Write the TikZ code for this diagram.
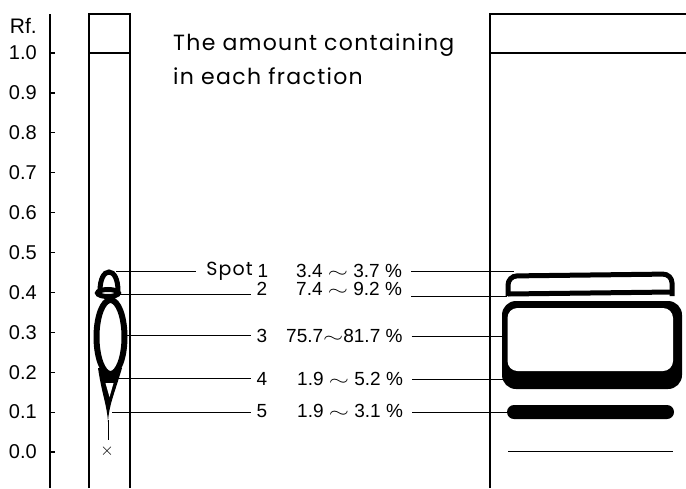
\documentclass[tikz,border=0pt]{standalone}
\usepackage{fontspec}
\usepackage{graphicx}
\setmainfont{Liberation Sans}
\newfontfamily\titlefont{Poppins}[LetterSpace=6]
\newcommand{\wavy}{\scalebox{1.5}[1]{$\sim$}}
\tikzset{
  rflabel/.style={anchor=east, inner sep=0pt, font=\fontsize{20}{20}\selectfont},
  spotlabel/.style={inner sep=0pt, font=\fontsize{19}{19}\selectfont},
  leader/.style={line width=1pt},
  plate/.style={line width=1.4pt},
  spotline/.style={line width=5pt},
}
\begin{document}
\begin{tikzpicture}[x=1pt,y=-1pt]
  \useasboundingbox (0,0) rectangle (686,488);
  % scala Rf
  \draw[line width=2.6pt] (50,14) -- (50,488);
  \foreach \i/\t in {0/0.0,1/0.1,2/0.2,3/0.3,4/0.4,5/0.5,6/0.6,7/0.7,8/0.8,9/0.9,10/1.0} {
    \draw[line width=1.2pt] (50,{452-39.9*\i}) -- ++(5,0);
    \node[rflabel] (rf\i) at (37,{452-39.9*\i}) {\t};
  }
  \node[rflabel, font=\fontsize{21}{21}\selectfont] (rfhead) at (37,26) {Rf.};
  % lastre
  \draw[plate] (89,488) -- (89,14) -- (130,14) -- (130,488);
  \draw[plate] (89,53) -- (130,53);
  \draw[plate] (490,488) -- (490,14) -- (686,14);
  \draw[plate] (490,53) -- (686,53);
  % titolo
  \node[anchor=base west, inner sep=0pt, font=\titlefont\fontsize{22}{22}\selectfont] (title1) at (173,50) {The amount containing};
  \node[anchor=base west, inner sep=0pt, font=\titlefont\fontsize{22}{22}\selectfont] (title2) at (173,84) {in each fraction};
  % macchia sinistra
  \fill (98,368) .. controls (102,395) and (107,405) .. (108,422) .. controls (109,405) and (114,395) .. (122,368) -- cycle;
  \fill[white] (105.5,383) -- (113.5,383) -- (109.5,397) -- cycle;
  \draw[line width=1pt] (108,420) -- (108,440);
  \node[inner sep=0pt, font=\fontsize{16}{16}\selectfont] (start) at (107,451) {$\times$};
  \draw[line width=6pt, fill=white] (110.5,337) ellipse [x radius=14, y radius=37];
  \draw[spotline, fill=white] (108,293) ellipse [x radius=10.5, y radius=3.5];
  \draw[spotline] (100,291) .. controls (100,279) and (104,272) .. (109,272) .. controls (114,272) and (118,279) .. (118,291);
  % macchia destra
  \draw[spotline, rounded corners=9] (508,296) -- (508,276) -- (672,274) -- (672,296);
  \draw[spotline] (508,294) -- (672,292);
  \fill[rounded corners=14] (502,301) rectangle (682,389);
  \fill[white, rounded corners=10] (507.5,308) rectangle (673,371);
  \fill[rounded corners=7] (507,405) rectangle (674,419);
  \draw[line width=1pt] (508,451) -- (673,451);
  % punti di attacco
  \coordinate (l1) at (116,271);
  \coordinate (l2) at (118,294);
  \coordinate (l3) at (124,335);
  \coordinate (l4) at (118,378);
  \coordinate (l5) at (112,412);
  \coordinate (r1) at (514,271);
  \coordinate (r2) at (507,296);
  \coordinate (r3) at (502,336);
  \coordinate (r4) at (503,379);
  \coordinate (r5) at (507,412);
  % etichette
  \node[spotlabel, anchor=east, font=\titlefont\fontsize{19}{19}\selectfont] (spotword) at (253,271) {Spot};
  \node[spotlabel] (n1) at (263,271) {1};
  \node[spotlabel] (n2) at (262,289) {2};
  \node[spotlabel] (n3) at (262,336) {3};
  \node[spotlabel] (n4) at (262,379) {4};
  \node[spotlabel] (n5) at (262,411) {5};
  \node[spotlabel, anchor=west] (p1) at (296,271) {3.4 \wavy{} 3.7 \%};
  \node[spotlabel, anchor=west] (p2) at (296,289) {7.4 \wavy{} 9.2 \%};
  \node[spotlabel, anchor=west] (p3) at (286,336) {75.7\wavy{}81.7 \%};
  \node[spotlabel, anchor=west] (p4) at (297,379) {1.9 \wavy{} 5.2 \%};
  \node[spotlabel, anchor=west] (p5) at (297,411) {1.9 \wavy{} 3.1 \%};
  % linee di richiamo
  \draw[leader] (l1) -- ([xshift=-10pt]spotword.west);
  \foreach \k in {2,...,5} {
    \draw[leader] (l\k) -- ([xshift=-6pt]n\k.west |- l\k);
  }
  \foreach \k in {1,...,5} {
    \draw[leader] ([xshift=9pt]p\k.east |- r\k) -- (r\k);
  }
\end{tikzpicture}
\end{document}
